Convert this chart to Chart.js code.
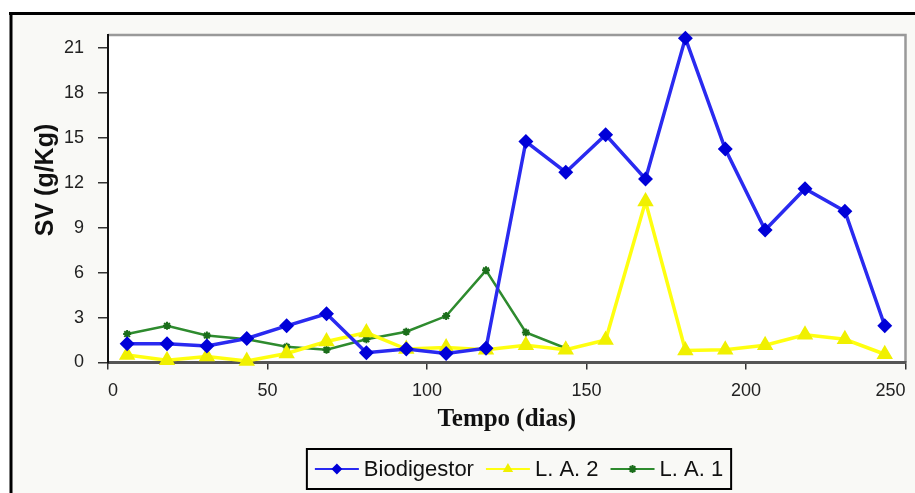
<!DOCTYPE html>
<html>
<head>
<meta charset="utf-8">
<script src="https://cdn.jsdelivr.net/npm/chart.js@4.4.1/dist/chart.umd.min.js"></script>
<style>
  html, body { margin: 0; padding: 0; background: #fff; }
  #wrap { width: 915px; height: 493px; }
</style>
</head>
<body>
<div id="wrap"><canvas id="chart" width="915" height="493"></canvas></div>
<script>
// --- Data ---
const days = [6, 18.5, 31, 43.5, 56, 68.5, 81, 93.5, 106, 118.5, 131, 143.5, 156, 168.5, 181, 193.5, 206, 218.5, 231, 243.5];
const biodigestor = [1.25, 1.25, 1.1, 1.6, 2.45, 3.25, 0.65, 0.9, 0.6, 0.95, 14.75, 12.7, 15.2, 12.25, 21.65, 14.25, 8.85, 11.6, 10.1, 2.45];
const la2 = [0.5, 0.15, 0.4, 0.1, 0.6, 1.4, 2.0, 0.9, 1.0, 0.85, 1.15, 0.85, 1.5, 10.75, 0.8, 0.85, 1.15, 1.85, 1.55, 0.55];
const la1 = [1.9, 2.45, 1.8, 1.55, 1.05, 0.85, 1.55, 2.05, 3.1, 6.15, 2.0, 0.95];
const seriesNames = ['Biodigestor', 'L. A. 2', 'L. A. 1'];
const xTicks = [0, 50, 100, 150, 200, 250];
const yTicks = [0, 3, 6, 9, 12, 15, 18, 21];
const xTitle = 'Tempo (dias)';
const yTitle = 'SV (g/Kg)';

const toPoints = (vals) => vals.map((v, i) => ({ x: days[i], y: v }));

// --- Background, outer frame, plot frame and y title ---
const framePlugin = {
  id: 'frame',
  beforeDraw(chart) {
    const { ctx, width, height, chartArea: a } = chart;
    ctx.save();
    ctx.fillStyle = '#ffffff';
    ctx.fillRect(0, 0, width, height);
    ctx.fillStyle = '#f9f9f6';
    ctx.fillRect(12, 15, width - 12, height - 15);
    ctx.fillStyle = '#ffffff';
    ctx.fillRect(a.left, a.top, a.right - a.left, a.bottom - a.top);
    // black outer frame (top and left)
    ctx.fillStyle = '#000';
    ctx.fillRect(9, 12, width - 9, 3);
    ctx.fillRect(9.5, 12, 3, height - 12);
    // grey plot border top/right
    ctx.strokeStyle = '#999';
    ctx.lineWidth = 2.5;
    ctx.beginPath();
    ctx.moveTo(a.left, a.top);
    ctx.lineTo(a.right, a.top);
    ctx.lineTo(a.right, a.bottom);
    ctx.stroke();
    // y axis title
    ctx.translate(53, 180);
    ctx.rotate(-Math.PI / 2);
    ctx.font = 'bold 25px "Liberation Sans", Arial, sans-serif';
    ctx.fillStyle = '#111';
    ctx.textAlign = 'center';
    ctx.textBaseline = 'alphabetic';
    ctx.fillText(yTitle, 0, 0);
    ctx.restore();
  }
};

// --- Boxed legend with line + marker samples ---
const boxLegend = {
  id: 'boxLegend',
  afterDraw(chart) {
    const ctx = chart.ctx;
    ctx.save();
    ctx.font = '22px "Liberation Sans", Arial, sans-serif';
    const sample = 44, gap = 5, sep = 12, padX = 8;
    const items = chart.data.datasets.map(ds => ({ ds, w: ctx.measureText(ds.label).width }));
    const total = padX * 2 + items.reduce((s, it) => s + sample + gap + it.w, 0) + sep * (items.length - 1);
    const cx = 519, top = 449, h = 40;
    let x = cx - total / 2;
    ctx.strokeStyle = '#000';
    ctx.lineWidth = 2;
    ctx.strokeRect(x, top, total, h);
    const cy = top + h / 2;
    x += padX;
    items.forEach(it => {
      const ds = it.ds;
      ctx.strokeStyle = ds.borderColor;
      ctx.lineWidth = 2;
      ctx.beginPath();
      ctx.moveTo(x, cy);
      ctx.lineTo(x + sample, cy);
      ctx.stroke();
      ctx.fillStyle = ds.pointBackgroundColor;
      ctx.strokeStyle = ds.pointBorderColor;
      Chart.helpers.drawPoint(ctx, { pointStyle: ds.pointStyle, radius: 4, borderWidth: 1.5, rotation: 0 }, x + sample / 2, cy);
      x += sample + gap;
      ctx.fillStyle = '#111';
      ctx.textAlign = 'left';
      ctx.textBaseline = 'middle';
      ctx.fillText(ds.label, x, cy + 1);
      x += it.w + sep;
    });
    ctx.restore();
  }
};

const ctx = document.getElementById('chart').getContext('2d');

new Chart(ctx, {
  type: 'line',
  data: {
    datasets: [
      {
        label: seriesNames[0],
        data: toPoints(biodigestor),
        borderColor: '#2a2af0',
        borderWidth: 3.5,
        pointStyle: 'rectRot',
        pointRadius: 5,
        pointBackgroundColor: '#0000d8',
        pointBorderColor: '#0000d8',
        tension: 0,
        clip: 10,
      },
      {
        label: seriesNames[1],
        data: toPoints(la2),
        borderColor: '#ffff10',
        borderWidth: 3.5,
        pointStyle: 'triangle',
        pointRadius: 6,
        pointBackgroundColor: '#f0f000',
        pointBorderColor: '#f0f000',
        tension: 0,
        clip: 10,
      },
      {
        label: seriesNames[2],
        data: toPoints(la1),
        borderColor: '#2e8b2e',
        borderWidth: 2.5,
        pointStyle: 'star',
        pointRadius: 4,
        pointBorderWidth: 2,
        pointBackgroundColor: '#1b6e1b',
        pointBorderColor: '#1b6e1b',
        tension: 0,
        clip: 10,
      },
    ],
  },
  options: {
    responsive: false,
    animation: false,
    layout: { padding: { left: 0, top: 35, right: 8, bottom: 58.5 } },
    plugins: {
      legend: { display: false },
      tooltip: { enabled: false },
    },
    scales: {
      x: {
        type: 'linear',
        min: 0,
        max: 250,
        afterBuildTicks: (scale) => { scale.ticks = xTicks.map(v => ({ value: v })); },
        afterFit: (scale) => { scale.height = 72; scale.paddingLeft = 0; scale.paddingRight = 0; },
        grid: { drawOnChartArea: false, tickLength: 7, color: '#333', lineWidth: 1.5 },
        border: { display: true, color: '#555', width: 3 },
        ticks: {
          color: '#222',
          padding: 11,
          align: 'inner',
          maxRotation: 0,
          font: { family: '"Liberation Sans", Arial, sans-serif', size: 18 },
        },
        title: {
          display: true,
          text: xTitle,
          color: '#111',
          padding: 0,
          font: { family: '"Liberation Serif", "Times New Roman", serif', size: 25, weight: 'bold' },
        },
      },
      y: {
        type: 'linear',
        min: 0,
        max: 21.86,
        afterBuildTicks: (scale) => { scale.ticks = yTicks.map(v => ({ value: v })); },
        afterFit: (scale) => { scale.width = 108; scale.paddingTop = 0; scale.paddingBottom = 0; },
        grid: { drawOnChartArea: false, tickLength: 10, color: '#333', lineWidth: 1.5 },
        border: { display: true, color: '#111', width: 2 },
        ticks: {
          color: '#222',
          padding: 14,
          font: { family: '"Liberation Sans", Arial, sans-serif', size: 18 },
        },
      },
    },
  },
  plugins: [framePlugin, boxLegend],
});
</script>
</body>
</html>
